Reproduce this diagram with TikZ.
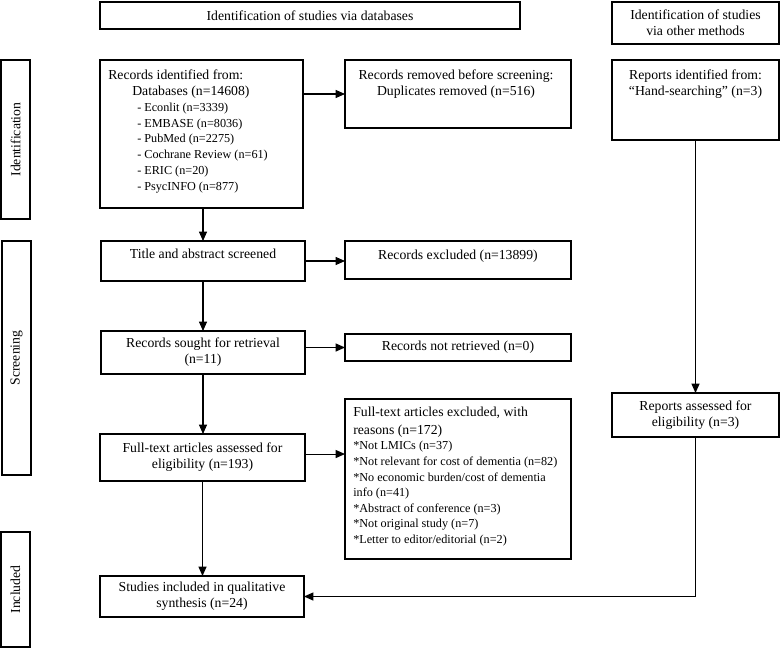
\documentclass[tikz,border=0pt]{standalone}
\usepackage{fontspec}
\setmainfont{Liberation Serif}
\usetikzlibrary{arrows.meta,calc}
\newcommand\fs{\fontsize{10.3pt}{11.9pt}\selectfont}
\newcommand\smA{\fontsize{9.15pt}{11.9pt}\selectfont}
\newcommand\fsB{\fontsize{10.3pt}{11.7pt}\selectfont}
\newcommand\smB{\fontsize{9.15pt}{11.7pt}\selectfont}
\begin{document}
\begin{tikzpicture}[x=0.75pt,y=-0.75pt,
  box/.style={draw=black, line width=0.8pt, inner sep=0pt, outer sep=0pt, font=\fs, align=center},
  side/.style={draw=black, line width=1.6pt, inner sep=0pt, outer sep=0pt},
  sz/.style 2 args={minimum width=#1*0.75pt, minimum height=#2*0.75pt},
  ltxt/.style={font=\fs, inner sep=0pt, align=left},
  ctxt/.style={font=\fs, inner sep=0pt, align=center},
  arr/.style={line width=0.8pt, -{Triangle[length=7pt,width=6pt]}}]
\useasboundingbox (0,0) rectangle (782,649);

% headers
\node[box, sz={420}{27}] (hdr1) at (310,15.5) {Identification of studies via databases};
\node[box, sz={167}{42}] (hdr2) at (695.5,23) {Identification of studies\\via other methods};

% side labels
\node[side, sz={29}{159}] (sI) at (15.5,139.5) {};
\node[rotate=90, font=\fs] (sIt) at (sI) {Identification};
\node[side, sz={29}{234}] (sS) at (16.5,358) {};
\node[rotate=90, font=\fs] (sSt) at (sS) {Screening};
\node[side, sz={29}{115}] (sN) at (15.5,589.5) {};
\node[rotate=90, font=\fs] (sNt) at (sN) {Included};

% boxes with top-aligned text
\node[box, sz={203}{148}] (recid) at (201.5,134) {};
\node[ltxt, anchor=north west] (recidt) at (108,69.5) {Records identified from:\\
\hspace*{18pt}Databases (n=14608)\\
\smA\hspace*{21.75pt}- Econlit (n=3339)\\
\smA\hspace*{21.75pt}- EMBASE (n=8036)\\
\smA\hspace*{21.75pt}- PubMed (n=2275)\\
\smA\hspace*{21.75pt}- Cochrane Review (n=61)\\
\smA\hspace*{21.75pt}- ERIC (n=20)\\
\smA\hspace*{21.75pt}- PsycINFO (n=877)};

\node[box, sz={226}{68}] (recrem) at (458,94) {};
\node[ctxt, anchor=north] (recremt) at (456,69.5) {Records removed before screening:\\Duplicates removed (n=516)};

\node[box, sz={167}{80}] (repid) at (695.5,100) {};
\node[ctxt, anchor=north] (repidt) at (695.5,69.5) {Reports identified from:\\“Hand-searching” (n=3)};

\node[box, sz={204}{40}] (title) at (203,261) {};
\node[ctxt, anchor=north] (titlet) at (203,248.5) {Title and abstract screened};

\node[box, sz={226}{38}] (recexc) at (458,260) {};
\node[ctxt, anchor=north] (recexct) at (458,249.5) {Records excluded (n=13899)};

\node[box, sz={226}{160}] (ftexc) at (458,479) {};
\node[ltxt, font=\fsB, anchor=north west] (ftexct) at (353,406.5) {Full-text articles excluded, with\\[1.8pt]
reasons (n=172)\\
\smB*Not LMICs (n=37)\\
\smB*Not relevant for cost of dementia (n=82)\\
\smB*No economic burden/cost of dementia\\
\smB info (n=41)\\
\smB*Abstract of conference (n=3)\\
\smB*Not original study (n=7)\\
\smB*Letter to editor/editorial (n=2)};

% boxes with centred text
\node[box, sz={204}{43}] (sought) at (203,352.5) {Records sought for retrieval\\(n=11)};
\node[box, sz={226}{27}] (notret) at (458,347.5) {Records not retrieved (n=0)};
\node[box, sz={205}{47}] (fta) at (202.5,457.5) {Full-text articles assessed for\\eligibility (n=193)};
\node[box, sz={167}{44}] (repass) at (695.5,415) {Reports assessed for\\eligibility (n=3)};
\node[box, sz={204}{41}] (studies) at (202,596.5) {Studies included in qualitative\\synthesis (n=24)};

% connectors
\draw[arr] (recid.east |- recrem.west) -- (recrem.west);
\draw[arr] (title.north |- recid.south) -- (title.north);
\draw[arr] (title.east) -- (title.east -| recexc.west);
\draw[arr] (title.south) -- (sought.north);
\draw[arr] (sought.east |- notret.west) -- (notret.west);
\draw[arr] (sought.south) -- (sought.south |- fta.north);
\draw[arr] ([yshift=2.6pt]fta.east) -- ([yshift=2.6pt]fta.east -| ftexc.west);
\draw[arr] (fta.south) -- (fta.south |- studies.north);
\draw[arr] (repid.south) -- (repass.north);
\draw[arr] (repass.south) |- (studies.east);
\end{tikzpicture}
\end{document}
